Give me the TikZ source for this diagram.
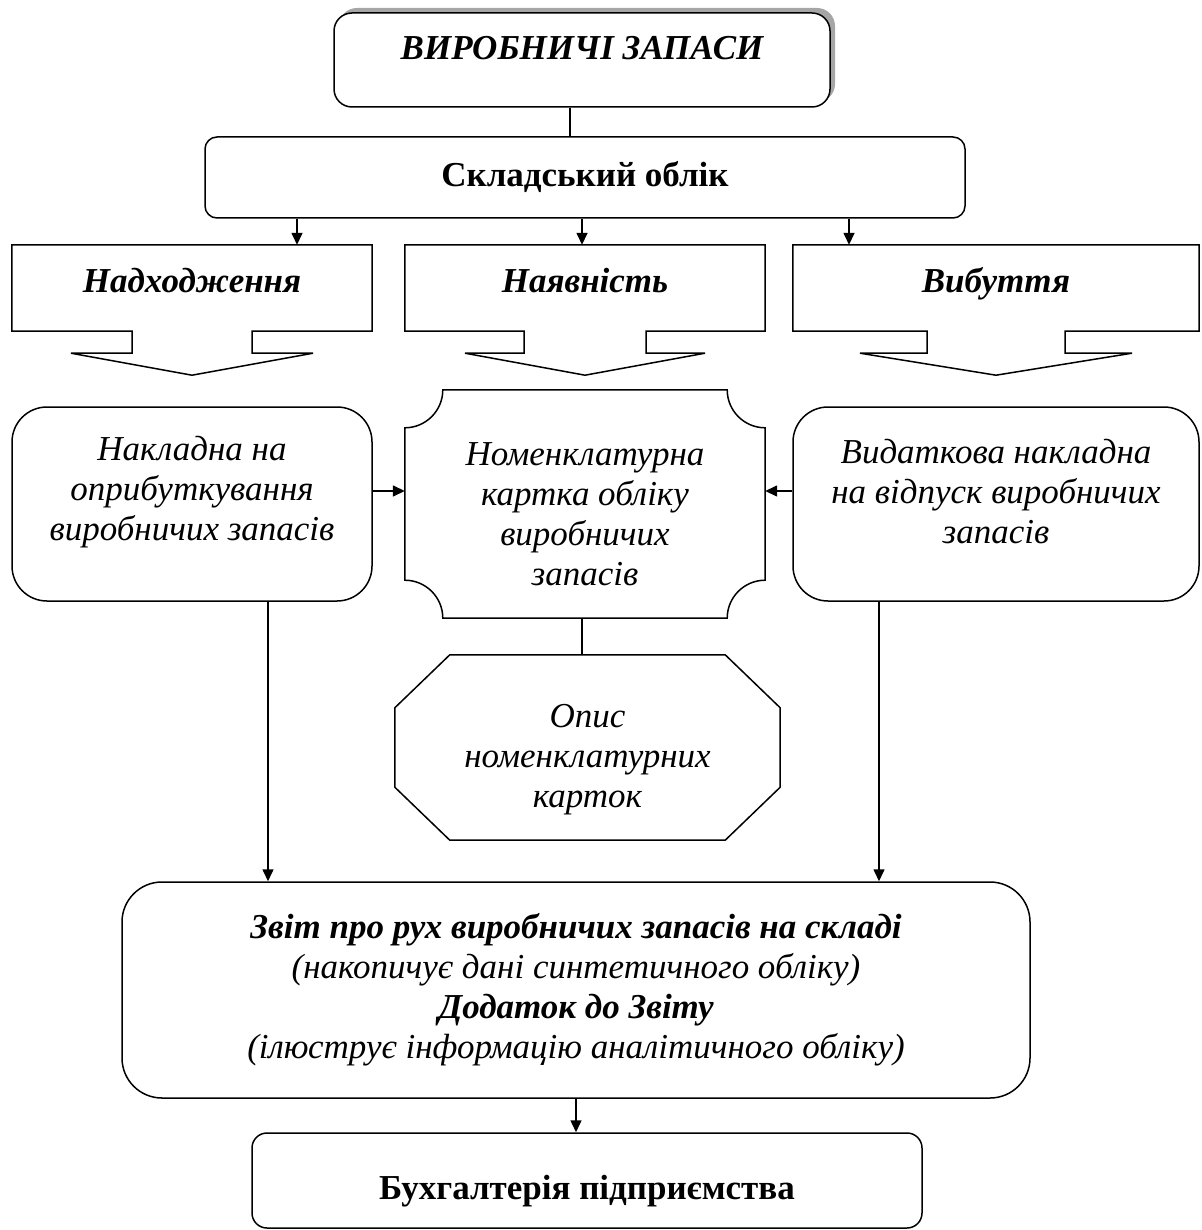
\documentclass[tikz,border=0pt]{standalone}
\usepackage{fontspec}
\setmainfont{Liberation Serif}
\usetikzlibrary{arrows.meta,calc,positioning,shadows}

\tikzset{
  conn/.style={line width=1.5pt},
  arr/.style={conn,-{Triangle[length=12pt,width=11pt]}},
  hdr/.style={font=\fontsize{35}{40}\selectfont\bfseries\itshape},
  body/.style={font=\fontsize{35}{40}\selectfont\itshape, align=center},
  rbox/.style={draw, conn, rounded corners=#1, fill=white, align=center},
  plain/.style={inner sep=0pt, align=center},
  callout/.style={plain, hdr, minimum height=86pt, text height=26pt, text depth=18pt}
}

% outline of a box with a down arrow under it
\newcommand\downcallout[3]{%
  \draw[conn] ($(#1.south)+(-#2,0)$) -- (#1.south west) -- (#1.north west)
    -- (#1.north east) -- (#1.south east) -- ($(#1.south)+(#2,0)$)
    -- ($(#1.south)+(#2,22)$) -- ($(#1.south)+(#3,22)$) -- ($(#1.south)+(0,44)$)
    -- ($(#1.south)+(-#3,22)$) -- ($(#1.south)+(-#2,22)$) -- cycle;}

\begin{document}
\begin{tikzpicture}[x=1pt,y=-1pt]
\useasboundingbox (0,0) rectangle (1201,1230);

\node[rbox=18pt, hdr, minimum width=496pt, minimum height=94pt, text height=25pt, text depth=25pt,
  drop shadow={shadow xshift=5pt, shadow yshift=5pt, fill=gray!70, opacity=1}] (zapasy) at (582,60) {ВИРОБНИЧІ ЗАПАСИ};
\node[rbox=12pt, font=\fontsize{35}{40}\selectfont\bfseries, minimum width=760pt, minimum height=81pt] (sklad) at (585,177.5) {Складський облік};

% three callouts
\node[callout, minimum width=360pt] (nadh) at (192,288) {Надходження};
\node[callout, minimum width=360pt] (nayav) at (585,288) {Наявність};
\node[callout, minimum width=406pt] (vybut) at (996,288) {Вибуття};
\downcallout{nadh}{60}{121}
\downcallout{nayav}{61}{120}
\downcallout{vybut}{69}{136}

\node[rbox=35pt, body, minimum width=360pt, minimum height=194pt] (nakl) at (192,504)
  {Накладна на\\оприбуткування\\виробничих запасів\\[-8pt]\mbox{}};
\node[plain, body, minimum width=360pt, minimum height=228pt] (nomen) at (585,504)
  {\mbox{}\\[4pt]Номенклатурна\\картка обліку\\виробничих\\запасів};
\node[rbox=35pt, body, minimum width=406pt, minimum height=194pt] (vydat) at (996,504)
  {Видаткова накладна\\на відпуск виробничих\\запасів\\[-14pt]\mbox{}};

% plaque
\draw[conn] ($(nomen.north west)+(38,0)$) -- ($(nomen.north east)+(-38,0)$)
  .. controls ($(nomen.north east)+(-38,21)$) and ($(nomen.north east)+(-21,38)$) .. ($(nomen.north east)+(0,38)$)
  -- ($(nomen.south east)+(0,-38)$)
  .. controls ($(nomen.south east)+(-21,-38)$) and ($(nomen.south east)+(-38,-21)$) .. ($(nomen.south east)+(-38,0)$)
  -- ($(nomen.south west)+(38,0)$)
  .. controls ($(nomen.south west)+(38,-21)$) and ($(nomen.south west)+(21,-38)$) .. ($(nomen.south west)+(0,-38)$)
  -- ($(nomen.north west)+(0,38)$)
  .. controls ($(nomen.north west)+(21,38)$) and ($(nomen.north west)+(38,21)$) .. cycle;

\node[plain, body, minimum width=385pt, minimum height=185pt] (opys) at (587.5,747.5)
  {\mbox{}\\[8pt]Опис\\номенклатурних\\карток};
\draw[conn] ($(opys.north west)+(55,0)$) -- ($(opys.north east)+(-55,0)$) -- ($(opys.north east)+(0,53)$)
  -- ($(opys.south east)+(0,-53)$) -- ($(opys.south east)+(-55,0)$) -- ($(opys.south west)+(55,0)$)
  -- ($(opys.south west)+(0,-53)$) -- ($(opys.north west)+(0,53)$) -- cycle;

\node[rbox=40pt, body, minimum width=908pt, minimum height=216pt] (zvit) at (576,990)
  {\textbf{Звіт про рух виробничих запасів на складі}\\(накопичує дані синтетичного обліку)\\
   \textbf{Додаток до Звіту}\\(ілюструє інформацію аналітичного обліку)};
\node[rbox=15pt, font=\fontsize{35}{40}\selectfont\bfseries, minimum width=670pt, minimum height=95pt,
  text height=37pt, text depth=0pt] (buh) at (587,1180.5)
  {Бухгалтерія підприємства};

% connectors
\draw[conn] (zapasy.south -| 570,0) -- (sklad.north -| 570,0);
\draw[arr] (sklad.south -| 297,0) -- (nadh.north -| 297,0);
\draw[arr] (sklad.south -| 582,0) -- (nayav.north -| 582,0);
\draw[arr] (sklad.south -| 849,0) -- (vybut.north -| 849,0);
\draw[arr] ([yshift=13pt]nakl.east) -- ([yshift=13pt]nomen.west);
\draw[arr] ([yshift=13pt]vydat.west) -- ([yshift=13pt]nomen.east);
\draw[conn] (nomen.south -| 582,0) -- (opys.north -| 582,0);
\draw[arr] (nakl.south -| 268,0) -- (zvit.north -| 268,0);
\draw[arr] (vydat.south -| 879,0) -- (zvit.north -| 879,0);
\draw[arr] (zvit.south) -- (buh.north -| zvit.south);
\end{tikzpicture}
\end{document}
